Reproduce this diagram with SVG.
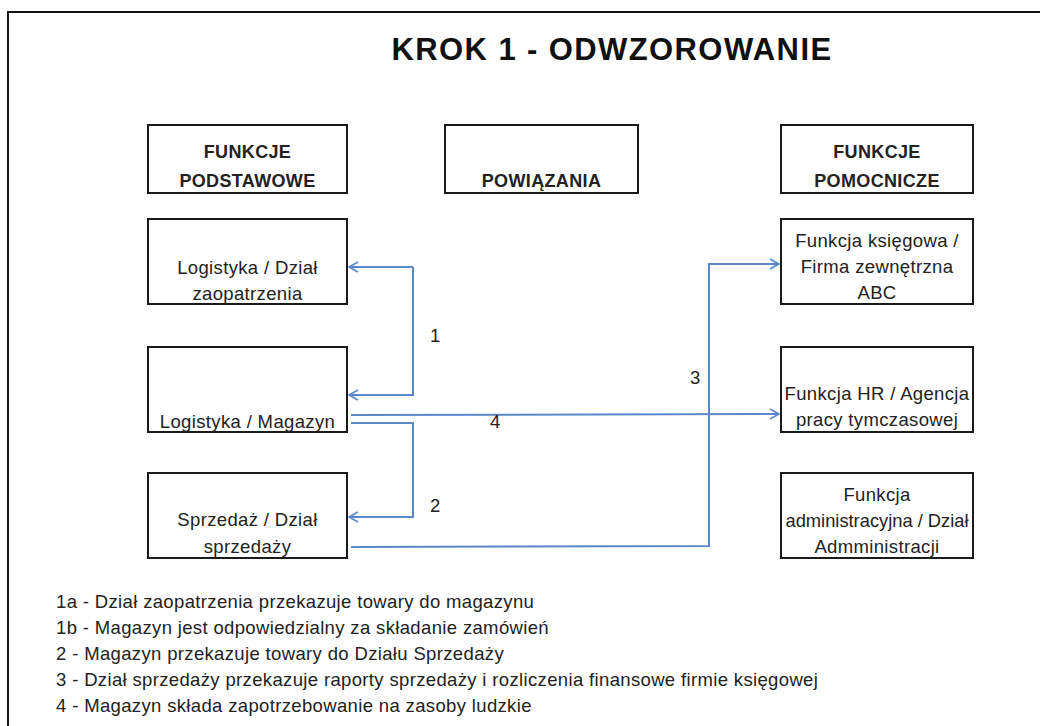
<svg xmlns="http://www.w3.org/2000/svg" width="1040" height="726" viewBox="0 0 1040 726">
<style>
.box{fill:#fff;stroke:#1a1a1a;stroke-width:2}
.t{font-family:"Liberation Sans",Arial,sans-serif;font-size:18.5px;letter-spacing:0.35px;fill:#222;text-anchor:middle}
.h{font-family:"Liberation Sans",Arial,sans-serif;font-size:18px;letter-spacing:0.35px;font-weight:bold;fill:#222;text-anchor:middle}
.lg{font-family:"Liberation Sans",Arial,sans-serif;font-size:18.5px;letter-spacing:0.35px;fill:#222}
.num{font-family:"Liberation Sans",Arial,sans-serif;font-size:18.5px;fill:#222}
.c{fill:none;stroke:#5b87c8;stroke-width:2}
</style>
<defs>
<marker id="arr" markerWidth="12" markerHeight="12" refX="10" refY="6" orient="auto" markerUnits="userSpaceOnUse">
<path d="M1,1 L10,6 L1,11" fill="none" stroke="#5b87c8" stroke-width="1.6"/>
</marker>
</defs>
<rect width="1040" height="726" fill="#fff"/>
<path d="M8,726 L8,12 L1040,12" fill="none" stroke="#111" stroke-width="2"/>
<text x="612" y="60" font-family="'Liberation Sans',Arial,sans-serif" font-size="31" letter-spacing="1.4" font-weight="bold" fill="#111" text-anchor="middle">KROK 1 - ODWZOROWANIE</text>

<g id="h1"><rect class="box" x="148" y="125" width="199" height="68"/><text class="h" x="247.5" y="158">FUNKCJE</text><text class="h" x="247.5" y="187">PODSTAWOWE</text></g>
<g id="h2"><rect class="box" x="445" y="125" width="193" height="68"/><text class="h" x="541.5" y="187">POWIĄZANIA</text></g>
<g id="h3"><rect class="box" x="781" y="125" width="192" height="68"/><text class="h" x="877" y="158">FUNKCJE</text><text class="h" x="877" y="187">POMOCNICZE</text></g>

<g id="n1"><rect class="box" x="148" y="219" width="199" height="85"/><text class="t" x="247.5" y="274">Logistyka / Dział</text><text class="t" x="247.5" y="300">zaopatrzenia</text></g>
<g id="n2"><rect class="box" x="148" y="347" width="199" height="85"/><text class="t" x="247.5" y="428">Logistyka / Magazyn</text></g>
<g id="n3"><rect class="box" x="148" y="473" width="199" height="85"/><text class="t" x="247.5" y="526">Sprzedaż / Dział</text><text class="t" x="247.5" y="553">sprzedaży</text></g>

<g id="n4"><rect class="box" x="781" y="219" width="192" height="85"/><text class="t" x="877" y="247">Funkcja księgowa /</text><text class="t" x="877" y="273">Firma zewnętrzna</text><text class="t" x="877" y="299">ABC</text></g>
<g id="n5"><rect class="box" x="781" y="347" width="192" height="85"/><text class="t" x="877" y="400">Funkcja HR / Agencja</text><text class="t" x="877" y="426">pracy tymczasowej</text></g>
<g id="n6"><rect class="box" x="781" y="473" width="192" height="85"/><text class="t" x="877" y="501">Funkcja</text><text class="t" x="877" y="527" style="letter-spacing:0" textLength="183" lengthAdjust="spacingAndGlyphs">administracyjna / Dział</text><text class="t" x="877" y="553">Admministracji</text></g>

<g id="connectors">
<path class="c" d="M413,267 L349,267" marker-end="url(#arr)"/>
<path class="c" d="M413,267 L413,395 L349,395" marker-end="url(#arr)"/>
<path class="c" d="M351,415 L779,414" marker-end="url(#arr)"/>
<path class="c" d="M351,423 L413,423 L413,517 L349,517" marker-end="url(#arr)"/>
<path class="c" d="M351,547 L709,546 L709,264 L779,264" marker-end="url(#arr)"/>
<text class="num" x="430" y="342">1</text>
<text class="num" x="430" y="512">2</text>
<text class="num" x="690" y="384">3</text>
<text class="num" x="490" y="428">4</text>
</g>

<g id="legend">
<text class="lg" x="56" y="608">1a - Dział zaopatrzenia przekazuje towary do magazynu</text>
<text class="lg" x="56" y="634">1b - Magazyn jest odpowiedzialny za składanie zamówień</text>
<text class="lg" x="56" y="660">2 - Magazyn przekazuje towary do Działu Sprzedaży</text>
<text class="lg" x="56" y="686">3 - Dział sprzedaży przekazuje raporty sprzedaży i rozliczenia finansowe firmie księgowej</text>
<text class="lg" x="56" y="712">4 - Magazyn składa zapotrzebowanie na zasoby ludzkie</text>
</g>
</svg>
